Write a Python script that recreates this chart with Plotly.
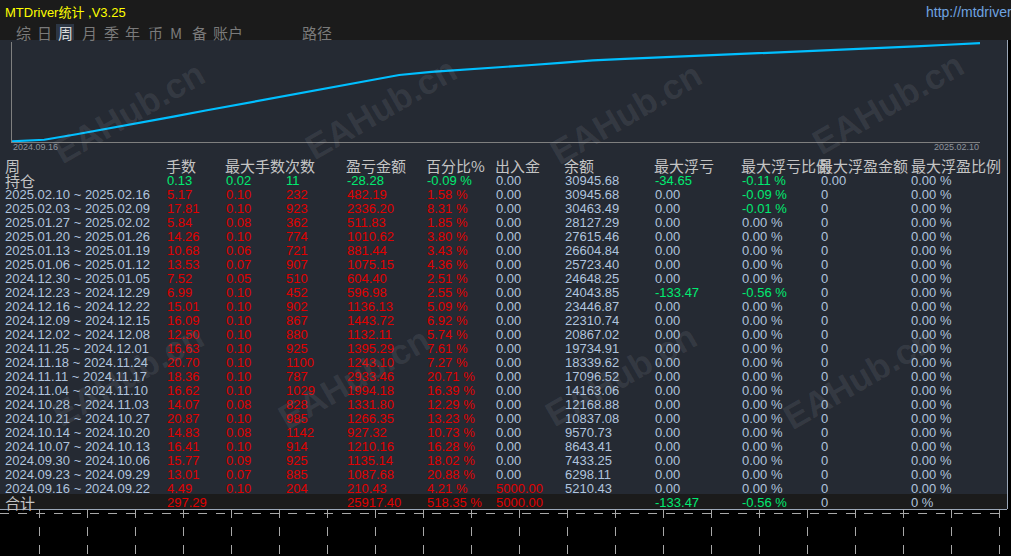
import plotly.graph_objects as go

# weekly rows, newest first
weeks = ["2025.02.10 ~ 2025.02.16", "2025.02.03 ~ 2025.02.09", "2025.01.27 ~ 2025.02.02",
         "2025.01.20 ~ 2025.01.26", "2025.01.13 ~ 2025.01.19", "2025.01.06 ~ 2025.01.12",
         "2024.12.30 ~ 2025.01.05", "2024.12.23 ~ 2024.12.29", "2024.12.16 ~ 2024.12.22",
         "2024.12.09 ~ 2024.12.15", "2024.12.02 ~ 2024.12.08", "2024.11.25 ~ 2024.12.01",
         "2024.11.18 ~ 2024.11.24", "2024.11.11 ~ 2024.11.17", "2024.11.04 ~ 2024.11.10",
         "2024.10.28 ~ 2024.11.03", "2024.10.21 ~ 2024.10.27", "2024.10.14 ~ 2024.10.20",
         "2024.10.07 ~ 2024.10.13", "2024.09.30 ~ 2024.10.06", "2024.09.23 ~ 2024.09.29",
         "2024.09.16 ~ 2024.09.22"]
lots = [5.17, 17.81, 5.84, 14.26, 10.68, 13.53, 7.52, 6.99, 15.01, 16.09, 12.50,
        16.63, 20.70, 18.36, 16.62, 14.07, 20.87, 14.83, 16.41, 15.77, 13.01, 4.49]
max_lots = [0.10, 0.10, 0.08, 0.10, 0.06, 0.07, 0.05, 0.10, 0.10, 0.10, 0.10,
            0.10, 0.10, 0.10, 0.10, 0.08, 0.10, 0.08, 0.10, 0.09, 0.07, 0.10]
trades = [232, 923, 362, 774, 721, 907, 510, 452, 902, 867, 880,
          925, 1100, 787, 1029, 828, 985, 1142, 914, 925, 885, 204]
profit = [482.19, 2336.20, 511.83, 1010.62, 881.44, 1075.15, 604.40, 596.98, 1136.13,
          1443.72, 1132.11, 1395.29, 1243.10, 2933.46, 1994.18, 1331.80, 1266.35,
          927.32, 1210.16, 1135.14, 1087.68, 210.43]
profit_pct = [1.58, 8.31, 1.85, 3.80, 3.43, 4.36, 2.51, 2.55, 5.09, 6.92, 5.74,
              7.61, 7.27, 20.71, 16.39, 12.29, 13.23, 10.73, 16.28, 18.02, 20.88, 4.21]
deposit = [0.0] * 21 + [5000.0]
balance = [30945.68, 30463.49, 28127.29, 27615.46, 26604.84, 25723.40, 24648.25,
           24043.85, 23446.87, 22310.74, 20867.02, 19734.91, 18339.62, 17096.52,
           14163.06, 12168.88, 10837.08, 9570.73, 8643.41, 7433.25, 6298.11, 5210.43]
max_dd = [0.0] * 7 + [-133.47] + [0.0] * 14
max_dd_pct = [-0.09, -0.01] + [0.0] * 5 + [-0.56] + [0.0] * 14
max_fp = [0] * 22
max_fp_pct = [0.0] * 22

# open position row and total row
hold_vals = [0.13, 0.02, 11, -28.28, -0.09, 0.00, 30945.68, -34.65, -0.11, 0.00, 0.00]
total_vals = [297.29, None, None, 25917.40, 518.35, 5000.00, None, -133.47, -0.56, 0, 0]

headers = ["手数", "最大手数", "次数", "盈亏金额", "百分比%", "出入金", "余额",
           "最大浮亏", "最大浮亏比例", "最大浮盈金额", "最大浮盈比例"]
tabs = ["综", "日", "周", "月", "季", "年", "币", "M", "备", "账户", "路径"]

# equity curve
equity = [5000, 5398, 6859, 8373, 9940, 11507, 13127, 14694, 16261, 17882, 19449,
          21016, 22530, 23326, 23858, 24522, 25106, 25743, 26381, 26779, 27124,
          27470, 27815, 28187, 28559, 28931, 29302, 29701, 30073, 30524, 30945]

RED = "#e00000"
GREEN = "#00ea70"
GREY = "#b0c4de"
HEAD = "#c4c4c4"
FONT = "Liberation Sans, Arial, Noto Sans CJK SC"
CJK = "Noto Sans CJK SC"

W, H = 1011, 556
col_x = [165, 224, 284, 345, 425, 494, 563, 653, 740, 819, 909]
head_x = [165, 224, 284, 345, 425, 494, 563, 653, 740, 817, 910]
fmts = ["{:.2f}", "{:.2f}", "{:d}", "{:.2f}", "{:.2f} %", "{:.2f}", "{:.2f}",
        "{:.2f}", "{:.2f} %", "{:d}", "{:.2f} %"]


def sign_col(v):
    if v > 0:
        return RED
    if v < 0:
        return GREEN
    return GREY


ann = []


def txt(x, y, s, color, size=13, family=FONT, anchor="left"):
    ann.append(dict(x=x, y=y, xref="x", yref="y", text=s, showarrow=False,
                    xanchor=anchor, yanchor="middle",
                    font=dict(color=color, size=size, family=family)))


# top bar
txt(3, 12, "MTDriver统计 ,V3.25", "#ffff00", 13)
txt(924, 12, "http://mtdriver.cn", "#6fa3e0", 14)
tab_x = [15, 36, 57, 81, 103, 124, 147, 169, 191, 212, 301]
for t, x in zip(tabs, tab_x):
    txt(x - 1, 32, t, "#d8d8d8" if t == "周" else "#7a7a7a", 15, CJK)

# chart date labels
txt(11, 147, "2024.09.16", "#8e949c", 9)
txt(981, 147, "2025.02.10", "#8e949c", 9, anchor="right")

# table
txt(3, 165, "周", HEAD, 15, CJK)
for h, x in zip(headers, head_x):
    txt(x - 1, 165, h, HEAD, 15, CJK)

txt(3, 180, "持仓", HEAD, 15, CJK)
for i, (v, x) in enumerate(zip(hold_vals, col_x)):
    f = fmts[i] if i != 9 else "{:.2f}"
    s = f.format(int(v) if "d" in f else v)
    c = GREY if i in (5, 6, 9, 10) else GREEN
    txt(x, 180, s, c, 13)

cols = [lots, max_lots, trades, profit, profit_pct, deposit, balance,
        max_dd, max_dd_pct, max_fp, max_fp_pct]
for r, wk in enumerate(weeks):
    y = 194 + 14 * r
    txt(3, y, wk, GREY, 13)
    for i, (col, x) in enumerate(zip(cols, col_x)):
        v = col[r]
        s = fmts[i].format(v)
        c = GREY if i == 6 else sign_col(v)
        txt(x, y, s, c, 13)

txt(3, 502, "合计", HEAD, 15, CJK)
tot_fmts = ["{:.2f}", "", "", "{:.2f}", "{:.2f} %", "{:.2f}", "", "{:.2f}", "{:.2f} %",
            "{:d}", "{:d} %"]
for i, (v, x) in enumerate(zip(total_vals, col_x)):
    if v is None:
        continue
    txt(x, 502, tot_fmts[i].format(v), sign_col(v), 13)

# watermarks
wm = [(128, 112), (380, 108), (625, 113), (887, 103),
      (127, 375), (353, 378), (620, 375), (858, 378)]
for x, y in wm:
    ann.append(dict(x=x, y=y, xref="x", yref="y", text="<b>EAHub.cn</b>", showarrow=False,
                    textangle=-30, font=dict(color="rgba(200,205,215,0.10)", size=35,
                                             family="Liberation Sans")))

shapes = [
    dict(type="rect", x0=0, x1=W, y0=0, y1=40, fillcolor="#1b1b1b", line_width=0, layer="below"),
    dict(type="rect", x0=0, x1=1007, y0=40, y1=494, fillcolor="#252a33", line_width=0, layer="below"),
    dict(type="rect", x0=0, x1=1007, y0=494, y1=509, fillcolor="#1b1b1b", line_width=0, layer="below"),
    dict(type="rect", x0=56, x1=74, y0=24, y1=40, fillcolor="#2c3644", line_width=0, layer="below"),
    dict(type="line", x0=0, x1=1007, y0=509.5, y1=509.5, line=dict(color="#9aa6b6", width=1)),
    dict(type="line", x0=1007.5, x1=1007.5, y0=40, y1=509, line=dict(color="#9aa6b6", width=1)),
    dict(type="line", x0=0, x1=1007, y0=513.5, y1=513.5,
         line=dict(color="#a8a8a8", width=1, dash="dash")),
]
for k in range(21):
    gx = 39.5 + 48 * k
    shapes.append(dict(type="line", x0=gx, x1=gx, y0=509, y1=H,
                       line=dict(color="#a8a8a8", width=1, dash="dash")))

fig = go.Figure()
fig.add_trace(go.Scatter(x=list(range(len(equity))), y=equity, mode="lines",
                         line=dict(color="#00bfff", width=2.2, shape="linear"),
                         xaxis="x2", yaxis="y2", hoverinfo="skip", showlegend=False))

fig.update_layout(
    width=W, height=H,
    margin=dict(l=0, r=0, t=0, b=0),
    paper_bgcolor="#000000",
    plot_bgcolor="rgba(0,0,0,0)",
    showlegend=False,
    xaxis=dict(range=[0, W], visible=False, domain=[0, 1], fixedrange=True),
    yaxis=dict(range=[H, 0], visible=False, domain=[0, 1], fixedrange=True),
    xaxis2=dict(range=[0, len(equity) - 1], domain=[12 / W, 980 / W], anchor="y2",
                showgrid=False, zeroline=False, showticklabels=False,
                showline=True, linecolor="#7f7f7f", linewidth=1),
    yaxis2=dict(range=[4800, 31250], domain=[1 - 142 / H, 1 - 42 / H], anchor="x2",
                showgrid=False, zeroline=False, showticklabels=False,
                showline=True, linecolor="#7f7f7f", linewidth=1),
    shapes=shapes,
    annotations=ann,
)

fig.write_html("out.html", config={"displayModeBar": False},
               post_script="document.body.style.margin='0';document.body.style.background='#000';")
